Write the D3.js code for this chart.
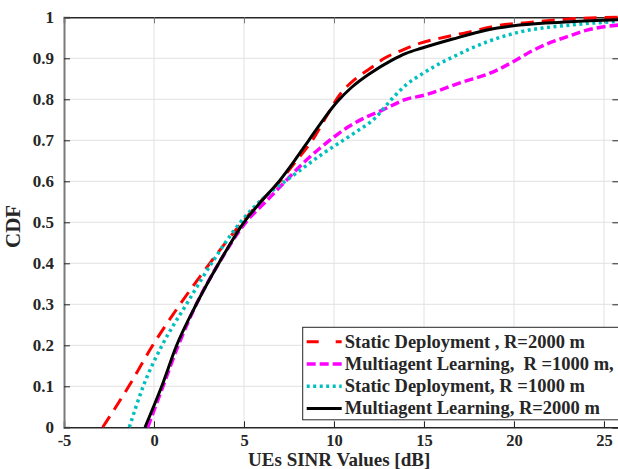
<!DOCTYPE html>
<html>
<head>
<meta charset="utf-8">
<script src="https://cdn.jsdelivr.net/npm/d3@7"></script>
<style>
  body { margin: 0; background: #fff; }
  svg text { font-family: "Liberation Serif", "Times New Roman", serif !important; font-weight: bold; fill: #262626; }
</style>
</head>
<body>
<svg width="618" height="469"></svg>
<script>
// CDF curves: [SINR dB, CDF]
const staticR2000 = [[-2.85,0],[-1.4,0.1],[-0.07,0.2],[1.45,0.3],[3.1,0.4],[4.9,0.5],[5.9,0.55],[7.0,0.6],[7.9,0.65],[8.8,0.7],[9.6,0.76],[10.3,0.81],[11.2,0.85],[12.0,0.875],[12.8,0.9],[13.8,0.92],[14.8,0.937],[16.2,0.952],[17.6,0.965],[19.0,0.979],[20.7,0.987],[23.5,0.997],[25.8,1.0]];
const multiR1000 = [[-0.35,0],[0.5,0.1],[1.35,0.2],[2.35,0.3],[3.6,0.4],[5.1,0.5],[6.2,0.55],[7.3,0.6],[8.3,0.645],[9.2,0.68],[10.0,0.708],[10.8,0.733],[11.6,0.753],[12.6,0.772],[14.0,0.8],[15.0,0.81],[17.0,0.84],[19.0,0.87],[20.0,0.893],[21.0,0.918],[22.0,0.938],[23.1,0.955],[24.0,0.968],[25.8,0.981]];
const staticR1000 = [[-1.37,0],[-0.6,0.1],[0.45,0.2],[1.8,0.3],[3.2,0.4],[4.8,0.5],[6.1,0.56],[7.6,0.61],[9.4,0.668],[11.1,0.717],[12.3,0.755],[13.2,0.8],[14.0,0.835],[14.9,0.862],[15.9,0.888],[16.6,0.903],[17.5,0.922],[18.5,0.94],[20.3,0.964],[23.1,0.981],[25.8,0.99]];
const multiR2000 = [[-0.5,0],[0.43,0.1],[1.26,0.2],[2.35,0.3],[3.6,0.4],[5.0,0.5],[6.0,0.553],[7.0,0.603],[7.8,0.65],[8.6,0.7],[9.4,0.75],[10.2,0.795],[11.0,0.83],[12.0,0.863],[13.2,0.895],[14.0,0.912],[14.9,0.925],[16.6,0.947],[18.5,0.969],[20.3,0.981],[23.1,0.989],[25.8,0.994]];

const xTicks = [-5, 0, 5, 10, 15, 20, 25];
const yTicks = [0, 0.1, 0.2, 0.3, 0.4, 0.5, 0.6, 0.7, 0.8, 0.9, 1];
const legendLabels = [
  "Static Deployment , R=2000 m",
  "Multiagent Learning,\u00a0 R =1000 m,",
  "Static Deployment, R =1000 m",
  "Multiagent Learning, R=2000 m"
];

const margin = { top: 17.3, right: 0, bottom: 41.7, left: 64 },
      width = 618.4 - margin.left,
      height = 469 - margin.top - margin.bottom;

const svg = d3.select("svg")
  .append("g")
  .attr("transform", `translate(${margin.left},${margin.top})`);

const x = d3.scaleLinear().domain([-5, 25.8]).range([0, width]);
const y = d3.scaleLinear().domain([0, 1]).range([height, 0]);

// grid
svg.append("g").selectAll("line").data(xTicks.slice(1)).join("line")
  .attr("x1", d => x(d)).attr("x2", d => x(d)).attr("y1", 0).attr("y2", height)
  .attr("stroke", "#e2e2e2").attr("stroke-width", 1);
svg.append("g").selectAll("line").data(yTicks.slice(1, -1)).join("line")
  .attr("x1", 0).attr("x2", width).attr("y1", d => y(d)).attr("y2", d => y(d))
  .attr("stroke", "#e2e2e2").attr("stroke-width", 1);

// axes (ticks inside)
const xAxis = svg.append("g").attr("transform", `translate(0,${height})`)
  .call(d3.axisBottom(x).tickValues(xTicks).tickSize(-6).tickPadding(7).tickFormat(d => String(d)));
const xTop = svg.append("g")
  .call(d3.axisTop(x).tickValues(xTicks).tickSize(-6).tickFormat(""));
const yAxis = svg.append("g")
  .call(d3.axisLeft(y).tickValues(yTicks).tickSize(-6).tickPadding(10).tickFormat(d => d === 0 || d === 1 ? String(d) : d3.format(".1f")(d)));
const yRight = svg.append("g").attr("transform", `translate(${width},0)`)
  .call(d3.axisRight(y).tickValues(yTicks).tickSize(-6).tickFormat(""));

[xAxis, xTop, yAxis, yRight].forEach(a => {
  a.attr("font-family", null).attr("font-size", null);
  a.select(".domain").attr("stroke", "#262626").attr("stroke-width", 1.5);
  a.selectAll(".tick line").attr("stroke", "#262626");
  a.selectAll("text").style("font-size", "17px").attr("fill", "#262626");
});
xAxis.selectAll("text").style("font-size", "16.5px");
yAxis.select(".domain").attr("stroke", "#7a7a7a").attr("stroke-width", 2);
xTop.selectAll(".tick line").attr("stroke", "#7a7a7a");

// curves
const line = d3.line()
  .x(d => x(d[0]))
  .y(d => y(d[1]))
  .curve(d3.curveMonotoneX);

const series = [
  { data: staticR2000, color: "#ff0000", dash: "13,8", width: 3 },
  { data: multiR1000, color: "#ff00ff", dash: "9,4", width: 3.5 },
  { data: staticR1000, color: "#00bfbf", dash: "3,3.5", width: 3.5 },
  { data: multiR2000, color: "#000000", dash: null, width: 3 }
];

svg.append("g").selectAll("path").data(series).join("path")
  .attr("d", d => line(d.data))
  .attr("fill", "none")
  .attr("stroke", d => d.color)
  .attr("stroke-width", d => d.width)
  .attr("stroke-dasharray", d => d.dash);

// axis titles
svg.append("text")
  .attr("x", width / 2 - 2).attr("y", height + 38.7)
  .attr("text-anchor", "middle").style("font-size", "19px")
  .text("UEs SINR Values [dB]");
svg.append("text")
  .attr("transform", `translate(${-44},${y(0.49)}) rotate(-90)`)
  .attr("text-anchor", "middle").style("font-size", "21px")
  .text("CDF");

// legend
const legend = svg.append("g").attr("transform", `translate(${302.7 - margin.left},${327.3 - margin.top})`);
legend.append("rect")
  .attr("width", 316).attr("height", 92.5)
  .attr("fill", "#fff").attr("stroke", "#262626").attr("stroke-width", 1);
const rows = legend.selectAll("g.row").data(series).join("g")
  .attr("class", "row")
  .attr("transform", (d, i) => `translate(0,${14.5 + i * 22.2})`);
rows.append("line")
  .attr("x1", 4).attr("x2", 39)
  .attr("stroke", d => d.color)
  .attr("stroke-width", d => d.width)
  .attr("stroke-dasharray", (d, i) => i === 0 ? "12,17" : d.dash);
rows.append("text")
  .attr("x", 42).attr("y", 6)
  .style("font-size", "18.5px")
  .text((d, i) => legendLabels[i]);
</script>
</body>
</html>
